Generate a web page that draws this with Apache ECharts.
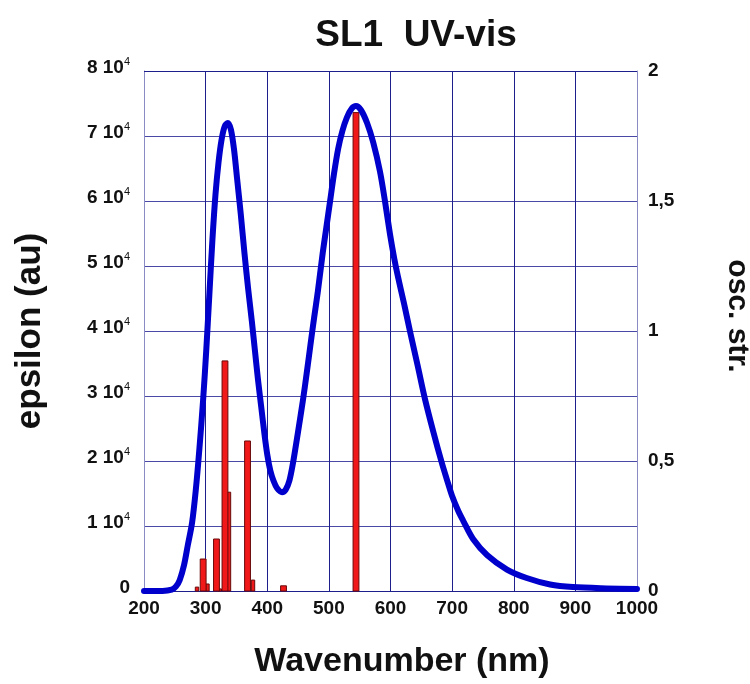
<!DOCTYPE html>
<html>
<head>
<meta charset="utf-8">
<title>SL1 UV-vis</title>
<script src="https://cdn.jsdelivr.net/npm/echarts@6/dist/echarts.min.js"></script>
<style>
  html, body { margin: 0; padding: 0; background: #ffffff; }
  #chart { width: 750px; height: 684px; }
</style>
</head>
<body>
<div id="chart"></div>
<script>
// Absorption spectrum: wavelength (nm) and epsilon (units of 10^4)
var wavelengths = [200, 230, 245, 252, 258, 265, 271, 278, 284, 290, 296, 301, 306, 311, 316, 321, 326, 331, 336, 341, 346, 351, 357, 363, 369, 375, 380, 385, 390, 395, 400, 405, 410, 416, 424, 430, 436, 442, 450, 458, 464, 470, 476, 482, 490, 496, 502, 508, 515, 522, 529, 537, 544, 552, 562, 572, 583, 591, 599, 606, 612, 622, 632, 644, 656, 670, 683, 691, 700, 710, 718, 734, 757, 789, 821, 859, 896, 951, 1000];
var epsilon = [0, 0, 0.02, 0.07, 0.17, 0.4, 0.7, 1.05, 1.55, 2.2, 2.95, 3.7, 4.55, 5.4, 6.1, 6.6, 6.95, 7.15, 7.2, 7.1, 6.8, 6.35, 5.8, 5.2, 4.65, 4.15, 3.7, 3.25, 2.85, 2.45, 2.1, 1.85, 1.7, 1.58, 1.52, 1.56, 1.7, 1.98, 2.45, 2.94, 3.35, 3.78, 4.2, 4.6, 5.2, 5.6, 6.0, 6.4, 6.8, 7.08, 7.28, 7.42, 7.46, 7.4, 7.2, 6.9, 6.45, 6.0, 5.5, 5.12, 4.84, 4.42, 3.98, 3.47, 2.95, 2.43, 1.98, 1.73, 1.46, 1.23, 1.08, 0.8, 0.55, 0.33, 0.2, 0.1, 0.06, 0.04, 0.03];

// Computed transitions: position (nm) and oscillator strength
var mainTransitionsNm = [296, 317.6, 331.4, 368, 426.4, 544];
var mainTransitionsOsc = [0.123, 0.2, 0.885, 0.577, 0.02, 1.84];
var minorTransitionsNm = [286, 303, 323, 337.9, 376.9];
var minorTransitionsOsc = [0.015, 0.027, 0.008, 0.38, 0.042];

// Axis ticks
var epsTicks = [0, 1, 2, 3, 4, 5, 6, 7, 8];
var oscTickLabels = ['0', '0,5', '1', '1,5', '2'];
var wavelengthTicks = [200, 300, 400, 500, 600, 700, 800, 900, 1000];

var SCALE = 10000;
var curveData = wavelengths.map(function (w, i) { return [w, epsilon[i] * SCALE]; });
var mainBars = mainTransitionsNm.map(function (w, i) { return [w, mainTransitionsOsc[i]]; });
var minorBars = minorTransitionsNm.map(function (w, i) { return [w, minorTransitionsOsc[i]]; });

var FONT = "'Liberation Sans', Arial, sans-serif";
var GRID_V = '#1e1e8c';
var GRID_H = '#4a4aa6';
var INK = '#111111';

function barRenderer(widthNm) {
  return function (params, api) {
    var x = api.value(0), y = api.value(1);
    var top = api.coord([x - widthNm / 2, y]);
    var bottom = api.coord([x + widthNm / 2, 0]);
    return {
      type: 'rect',
      shape: { x: top[0], y: top[1], width: bottom[0] - top[0], height: bottom[1] - top[1] },
      style: { fill: '#f01818', stroke: '#6a0a0a', lineWidth: 1 }
    };
  };
}

function bigText(text, x, y, rotation, size) {
  return {
    type: 'text', x: x, y: y, rotation: rotation || 0, z: 20,
    style: {
      text: text, fill: INK, align: 'center', verticalAlign: 'middle',
      font: 'bold ' + size + 'px ' + FONT
    }
  };
}

var chart = echarts.init(document.getElementById('chart'), null, { renderer: 'canvas' });
chart.setOption({
  backgroundColor: '#ffffff',
  animation: false,
  grid: { left: 144, right: 113, top: 71, bottom: 93, show: false, outerBoundsMode: 'none', containLabel: false },
  xAxis: {
    type: 'value', min: 200, max: 1000, interval: 100,
    axisLine: { show: true, lineStyle: { color: GRID_V, width: 1 } },
    axisTick: { show: false },
    axisLabel: {
      margin: 8, fontFamily: FONT, fontSize: 19, fontWeight: 'bold', color: INK,
      formatter: function (v) { return wavelengthTicks.indexOf(v) >= 0 ? String(v) : ''; }
    },
    splitLine: { show: true, lineStyle: { color: GRID_V, width: 1 } }
  },
  yAxis: [{
    type: 'value', min: 0, max: 8 * SCALE, interval: SCALE, position: 'left',
    axisLine: { show: true, lineStyle: { color: '#8a8ac4', width: 1 } },
    axisTick: { show: false },
    axisLabel: {
      margin: 14,
      formatter: function (v) {
        var n = Math.round(v / SCALE);
        if (epsTicks.indexOf(n) < 0) return '';
        return n === 0 ? '{n|0}' : '{n|' + n + ' 10}{s|4}';
      },
      rich: {
        n: { fontFamily: FONT, fontSize: 19, fontWeight: 'bold', color: INK, padding: [0, 0, 6, 0] },
        s: { fontFamily: FONT, fontSize: 11, color: INK, padding: [0, 0, 18, 0] }
      }
    },
    splitLine: { show: true, lineStyle: { color: GRID_H, width: 1 } }
  }, {
    type: 'value', min: 0, max: 2, interval: 0.5, position: 'right',
    axisLine: { show: true, lineStyle: { color: '#8a8ac4', width: 1 } },
    axisTick: { show: false },
    axisLabel: {
      margin: 11, fontFamily: FONT, fontSize: 19, fontWeight: 'bold', color: INK,
      formatter: function (v) { return oscTickLabels[Math.round(v * 2)]; }
    },
    splitLine: { show: false }
  }],
  graphic: [
    {
      // top border of the plotting frame
      type: 'line', z: 10,
      shape: { x1: 144, y1: 71.5, x2: 637, y2: 71.5 },
      style: { stroke: GRID_V, lineWidth: 1 }
    },
    bigText('SL1  UV-vis', 416, 36, 0, 37),
    bigText('Wavenumber (nm)', 402, 662, 0, 34),
    bigText('epsilon (au)', 30, 331, Math.PI / 2, 35),
    bigText('osc. str.', 737, 316, -Math.PI / 2, 30)
  ],
  series: [{
    type: 'custom', name: 'minor', xAxisIndex: 0, yAxisIndex: 1,
    renderItem: barRenderer(5.5), data: minorBars, z: 3,
    encode: { x: 0, y: 1 }
  }, {
    type: 'custom', name: 'main', xAxisIndex: 0, yAxisIndex: 1,
    renderItem: barRenderer(9.5), data: mainBars, z: 4,
    encode: { x: 0, y: 1 }
  }, {
    type: 'line', name: 'epsilon', xAxisIndex: 0, yAxisIndex: 0,
    data: curveData, showSymbol: false, smooth: 0.3,
    lineStyle: { color: '#0000cc', width: 6, cap: 'round', join: 'round' },
    z: 5
  }]
});
</script>
</body>
</html>
